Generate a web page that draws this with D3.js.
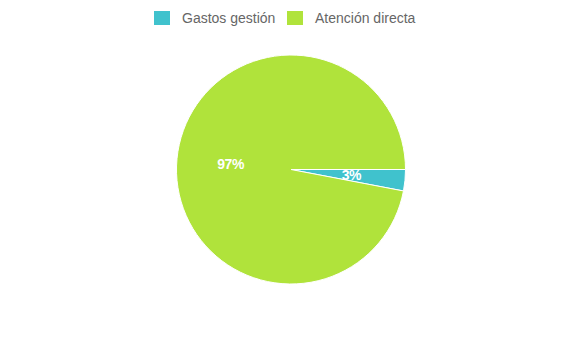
<!DOCTYPE html>
<html><head><meta charset="utf-8">
<script src="https://cdn.jsdelivr.net/npm/d3@7"></script>
<style>body{margin:0;background:#fff}svg{display:block}</style>
</head><body>
<script>
const categories = ["Gastos gestión", "Atención directa"];
const values = [3, 97];
const colors = ["#40c2cd", "#b0e33b"];

const W = 588, H = 349;
const svg = d3.select("body").append("svg").attr("width", W).attr("height", H);

const cx = 291, cy = 169.5, r = 114.5;
const pie = d3.pie().value(d => d).sort(null)
  .startAngle(Math.PI / 2).endAngle(Math.PI / 2 + 2 * Math.PI);
const arcs = pie(values);
const arc = d3.arc().innerRadius(0).outerRadius(r);
const labelArc = d3.arc().innerRadius(r * 0.53).outerRadius(r * 0.53);
const g = svg.append("g").attr("transform", `translate(${cx},${cy})`);
g.selectAll("path").data(arcs).join("path")
  .attr("d", arc).attr("fill", (d, i) => colors[i])
  .attr("stroke", "#fff").attr("stroke-width", 1);
const total = d3.sum(values);
g.selectAll("text").data(arcs).join("text")
  .attr("transform", d => `translate(${labelArc.centroid(d)})`)
  .attr("text-anchor", "middle").attr("dy", "0.36em")
  .attr("fill", "#fff").attr("font-family", "'Liberation Sans', Arial, sans-serif")
  .attr("font-weight", "bold").attr("font-size", 14).attr("letter-spacing", -0.5)
  .text(d => Math.round(d.value / total * 100) + "%");

// legend
const legendX = [154, 287];
const lg = svg.append("g");
categories.forEach((c, i) => {
  lg.append("rect").attr("x", legendX[i]).attr("y", 11).attr("width", 16).attr("height", 14).attr("fill", colors[i]);
  lg.append("text").attr("x", legendX[i] + 28).attr("y", 23)
    .attr("font-family", "Liberation Sans, Arial, sans-serif").attr("font-size", 14)
    .attr("fill", "#666").text(c);
});
</script>
</body></html>
